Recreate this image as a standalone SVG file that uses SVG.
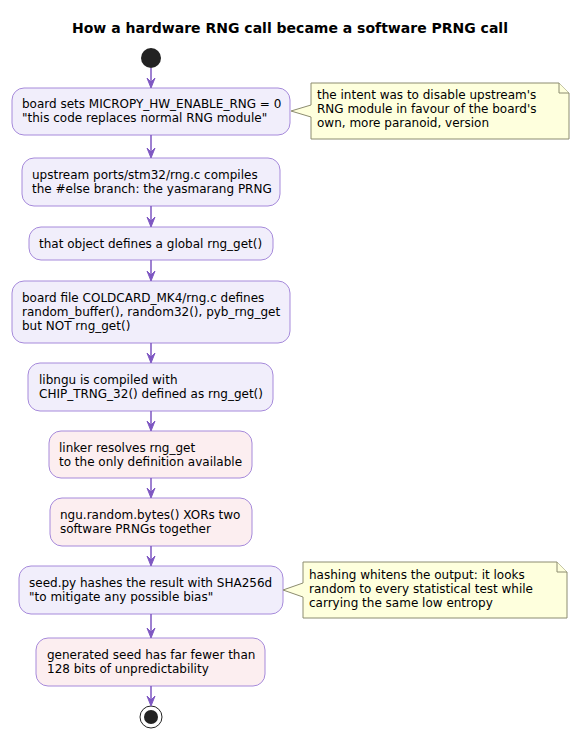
<svg xmlns="http://www.w3.org/2000/svg" width="580" height="738" viewBox="0 0 580 738">
<defs>
<style>
text{font-family:"DejaVu Sans","Liberation Sans",sans-serif;font-size:12px;fill:#000}
.title{font-size:14px;font-weight:bold}
.act rect{fill:#F1EEFB;stroke:#A68ADB;stroke-width:1}
.bad rect{fill:#FCEEF0;stroke:#A68ADB;stroke-width:1}
.note path{fill:#FEFFDD;stroke:#8C8C70;stroke-width:1}
.conn line{stroke:#7E57C2;stroke-width:1.5}
.conn polygon{fill:#7E57C2;stroke:#7E57C2}
</style>
</defs>
<rect width="580" height="738" fill="#fff"/>
<text class="title" x="290" y="33" text-anchor="middle">How a hardware RNG call became a software PRNG call</text>

<g id="start"><circle cx="151" cy="58" r="10" fill="#222"/></g>

<g id="n1" class="act"><rect x="12" y="88" width="278" height="47" rx="12"/>
<text x="22" y="108">board sets MICROPY_HW_ENABLE_RNG = 0</text>
<text x="22" y="122">"this code replaces normal RNG module"</text></g>

<g id="note1" class="note"><path d="M311,83 H559 L569,93 V139 H311 V117 L291,111 L311,105 Z"/><path d="M559,83 V93 H569" fill="none"/>
<text x="317" y="99">the intent was to disable upstream's</text>
<text x="317" y="113">RNG module in favour of the board's</text>
<text x="317" y="127">own, more paranoid, version</text></g>

<g id="n2" class="act"><rect x="22" y="158" width="258" height="48" rx="12"/>
<text x="32" y="179">upstream ports/stm32/rng.c compiles</text>
<text x="32" y="193">the #else branch: the yasmarang PRNG</text></g>

<g id="n3" class="act"><rect x="29" y="227" width="244" height="33" rx="12"/>
<text x="39" y="248">that object defines a global rng_get()</text></g>

<g id="n4" class="act"><rect x="12" y="281" width="278" height="62" rx="12"/>
<text x="22" y="302">board file COLDCARD_MK4/rng.c defines</text>
<text x="22" y="316">random_buffer(), random32(), pyb_rng_get</text>
<text x="22" y="330">but NOT rng_get()</text></g>

<g id="n5" class="act"><rect x="28" y="363" width="245" height="48" rx="12"/>
<text x="39" y="384">libngu is compiled with</text>
<text x="39" y="398">CHIP_TRNG_32() defined as rng_get()</text></g>

<g id="n6" class="bad"><rect x="49" y="431" width="203" height="47" rx="12"/>
<text x="59" y="452">linker resolves rng_get</text>
<text x="59" y="466">to the only definition available</text></g>

<g id="n7" class="bad"><rect x="50" y="498" width="202" height="48" rx="12"/>
<text x="60" y="519">ngu.random.bytes() XORs two</text>
<text x="60" y="533">software PRNGs together</text></g>

<g id="n8" class="act"><rect x="19" y="566" width="264" height="48" rx="12"/>
<text x="29" y="587">seed.py hashes the result with SHA256d</text>
<text x="29" y="601">"to mitigate any possible bias"</text></g>

<g id="note2" class="note"><path d="M303,562 H557 L567,572 V618 H303 V597 L283,590 L303,583 Z"/><path d="M557,562 V572 H567" fill="none"/>
<text x="309" y="579">hashing whitens the output: it looks</text>
<text x="309" y="593">random to every statistical test while</text>
<text x="309" y="607">carrying the same low entropy</text></g>

<g id="n9" class="bad"><rect x="36" y="638" width="229" height="48" rx="12"/>
<text x="47" y="659">generated seed has far fewer than</text>
<text x="47" y="673">128 bits of unpredictability</text></g>

<g id="end"><circle cx="151" cy="717" r="11" fill="none" stroke="#222" stroke-width="1"/><circle cx="151" cy="717" r="7" fill="#222"/></g>

<g id="connectors" class="conn">
<line x1="151" y1="68" x2="151" y2="84"/><polygon points="151,88 147,78 151,82 155,78"/>
<line x1="151" y1="135" x2="151" y2="154"/><polygon points="151,158 147,148 151,152 155,148"/>
<line x1="151" y1="206" x2="151" y2="223"/><polygon points="151,227 147,217 151,221 155,217"/>
<line x1="151" y1="260" x2="151" y2="277"/><polygon points="151,281 147,271 151,275 155,271"/>
<line x1="151" y1="343" x2="151" y2="359"/><polygon points="151,363 147,353 151,357 155,353"/>
<line x1="151" y1="411" x2="151" y2="427"/><polygon points="151,431 147,421 151,425 155,421"/>
<line x1="151" y1="478" x2="151" y2="494"/><polygon points="151,498 147,488 151,492 155,488"/>
<line x1="151" y1="546" x2="151" y2="562"/><polygon points="151,566 147,556 151,560 155,556"/>
<line x1="151" y1="614" x2="151" y2="634"/><polygon points="151,638 147,628 151,632 155,628"/>
<line x1="151" y1="686" x2="151" y2="702"/><polygon points="151,706 147,696 151,700 155,696"/>
</g>
</svg>
